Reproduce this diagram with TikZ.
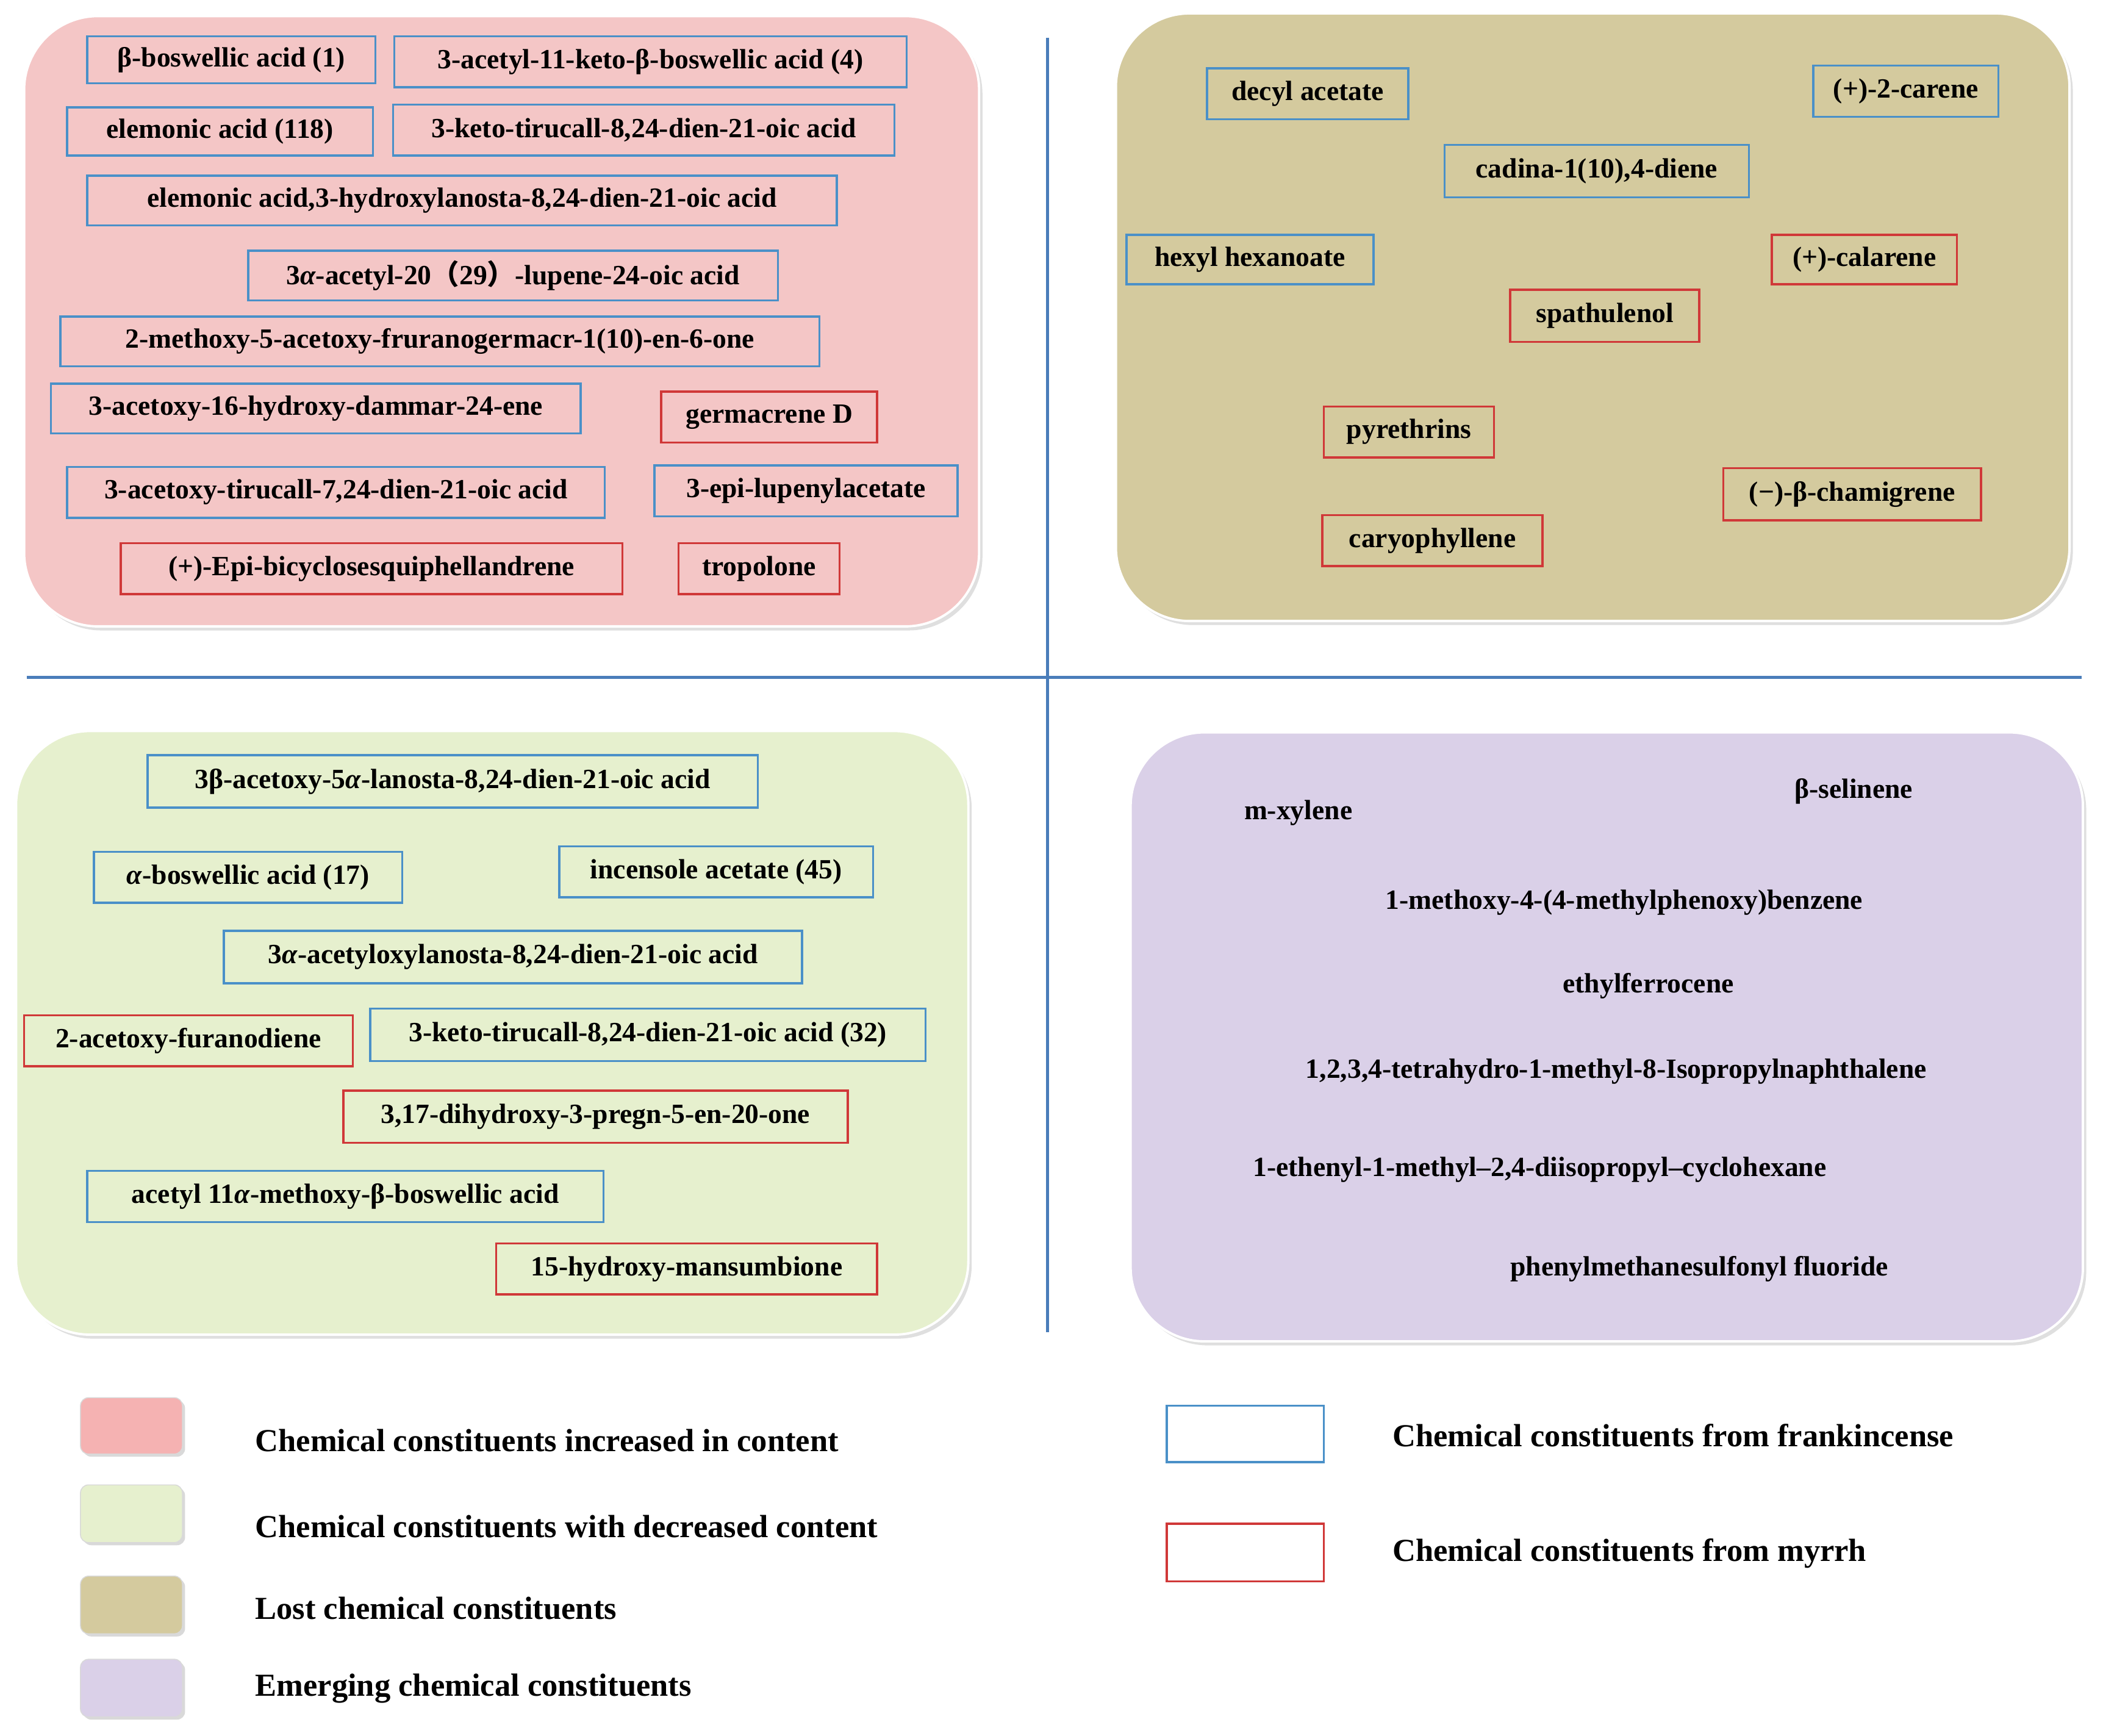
\documentclass[tikz,border=0pt]{standalone}
\usepackage{fontspec}
\setmainfont{Liberation Serif}
\newfontfamily\cjk{Noto Sans CJK SC}
\usetikzlibrary{shadows}
\definecolor{fblue}{HTML}{4A90C8}
\definecolor{fred}{HTML}{D03838}
\definecolor{pinkc}{HTML}{F4C6C6}
\definecolor{olivec}{HTML}{D4CA9E}
\definecolor{greenc}{HTML}{E6F0CE}
\definecolor{purplec}{HTML}{DAD0E8}
\definecolor{linec}{HTML}{4A7DBA}
\newcommand\cbox[7]{%
  \path[#2] (#3,#4) rectangle (#5,#6);
  \node[txt] (#1) at ({(#3+#5)/2},{(#4+#6)/2}) {#7};}
\begin{document}
\begin{tikzpicture}[x=0.02cm,y=-0.02cm,
  txt/.style={font=\fontsize{11.8}{14}\selectfont\bfseries, inner sep=0pt},
  ltxt/.style={font=\fontsize{13.6}{16}\selectfont\bfseries, anchor=west, inner sep=0pt},
  b/.style={draw=fblue, line width=0.9pt},
  r/.style={draw=fred, line width=0.9pt},
  panel/.style={rounded corners=1.1cm, draw=white, line width=1pt, drop shadow={opacity=0.25, shadow xshift=0.5mm, shadow yshift=-0.6mm}},
  sw/.style={rounded corners=0.12cm, draw=white!70!gray, drop shadow={opacity=0.3, shadow xshift=0.4mm, shadow yshift=-0.4mm}}]
\useasboundingbox (0,0) rectangle (1568,1294);
% panels
\path[panel, fill=pinkc] (18,12) rectangle (730,467);
\path[panel, fill=olivec] (832,10) rectangle (1543,463);
\path[panel, fill=greenc] (12,545) rectangle (722,995);
\path[panel, fill=purplec] (843,546) rectangle (1553,1000);
% axes
\coordinate (hl) at (20,505); \coordinate (hr) at (1552,505);
\coordinate (vt) at (781,28); \coordinate (vb) at (781,993);
\draw[linec, line width=1.2pt] (hl) -- (hr);
\draw[linec, line width=1.2pt] (vt) -- (vb);
% pink
\cbox{p1}{b}{65}{27}{280}{62}{β-boswellic acid (1)}
\cbox{p2}{b}{294}{27}{676}{65}{3-acetyl-11-keto-β-boswellic acid (4)}
\cbox{p3}{b}{50}{80}{278}{116}{elemonic acid (118)}
\cbox{p4}{b}{293}{78}{667}{116}{3-keto-tirucall-8,24-dien-21-oic acid}
\cbox{p5}{b}{65}{131}{624}{168}{elemonic acid,3-hydroxylanosta-8,24-dien-21-oic acid}
\cbox{p6}{b}{185}{187}{580}{224}{3\textit{α}-acetyl-20{\cjk （}29{\cjk ）}-lupene-24-oic acid}
\cbox{p7}{b}{45}{236}{611}{273}{2-methoxy-5-acetoxy-fruranogermacr-1(10)-en-6-one}
\cbox{p8}{b}{38}{286}{433}{323}{3-acetoxy-16-hydroxy-dammar-24-ene}
\cbox{p9}{r}{493}{292}{654}{330}{germacrene D}
\cbox{p10}{b}{50}{348}{451}{386}{3-acetoxy-tirucall-7,24-dien-21-oic acid}
\cbox{p11}{b}{488}{347}{714}{385}{3-epi-lupenylacetate}
\cbox{p12}{r}{90}{405}{464}{443}{(+)-Epi-bicyclosesquiphellandrene}
\cbox{p13}{r}{506}{405}{626}{443}{tropolone}
% olive
\cbox{o1}{b}{900}{51}{1050}{89}{decyl acetate}
\cbox{o2}{b}{1352}{49}{1490}{87}{(+)-2-carene}
\cbox{o3}{b}{1077}{108}{1304}{147}{cadina-1(10),4-diene}
\cbox{o4}{b}{840}{175}{1024}{212}{hexyl hexanoate}
\cbox{o5}{r}{1321}{175}{1459}{212}{(+)-calarene}
\cbox{o6}{r}{1126}{216}{1267}{255}{spathulenol}
\cbox{o7}{r}{987}{303}{1114}{341}{pyrethrins}
\cbox{o8}{r}{1285}{349}{1477}{388}{(−)-β-chamigrene}
\cbox{o9}{r}{986}{384}{1150}{422}{caryophyllene}
% green
\cbox{g1}{b}{110}{563}{565}{602}{3β-acetoxy-5\textit{α}-lanosta-8,24-dien-21-oic acid}
\cbox{g2}{b}{70}{635}{300}{673}{\textit{α}-boswellic acid (17)}
\cbox{g3}{b}{417}{631}{651}{669}{incensole acetate (45)}
\cbox{g4}{b}{167}{694}{598}{733}{3\textit{α}-acetyloxylanosta-8,24-dien-21-oic acid}
\cbox{g5}{r}{18}{757}{263}{795}{2-acetoxy-furanodiene}
\cbox{g6}{b}{276}{752}{690}{791}{3-keto-tirucall-8,24-dien-21-oic acid (32)}
\cbox{g7}{r}{256}{813}{632}{852}{3,17-dihydroxy-3-pregn-5-en-20-one}
\cbox{g8}{b}{65}{873}{450}{911}{acetyl 11\textit{α}-methoxy-β-boswellic acid}
\cbox{g9}{r}{370}{927}{654}{965}{15-hydroxy-mansumbione}
% purple
\node[txt] (q1) at (968,606) {m-xylene};
\node[txt] (q2) at (1382,590) {β-selinene};
\node[txt] (q3) at (1211,673) {1-methoxy-4-(4-methylphenoxy)benzene};
\node[txt] (q4) at (1229,735) {ethylferrocene};
\node[txt] (q5) at (1205,799) {1,2,3,4-tetrahydro-1-methyl-8-Isopropylnaphthalene};
\node[txt] (q6) at (1148,872) {1-ethenyl-1-methyl–2,4-diisopropyl–cyclohexane};
\node[txt] (q7) at (1267,946) {phenylmethanesulfonyl fluoride};
% legend
\path[sw, fill=pinkc!90!red] (60,1042) rectangle (136,1084);
\path[sw, fill=greenc] (60,1107) rectangle (136,1150);
\path[sw, fill=olivec] (60,1175) rectangle (136,1218);
\path[sw, fill=purplec] (60,1237) rectangle (136,1280);
\node[ltxt] (l1) at (190,1074) {Chemical constituents increased in content};
\node[ltxt] (l2) at (190,1138) {Chemical constituents with decreased content};
\node[ltxt] (l3) at (190,1199) {Lost chemical constituents};
\node[ltxt] (l4) at (190,1259) {Emerging chemical constituents};
\path[b, fill=white] (870,1048) rectangle (987,1090);
\path[r, fill=white] (870,1136) rectangle (987,1179);
\node[ltxt] (l5) at (1038,1070) {Chemical constituents from frankincense};
\node[ltxt] (l6) at (1038,1158) {Chemical constituents from myrrh};
\end{tikzpicture}
\end{document}
